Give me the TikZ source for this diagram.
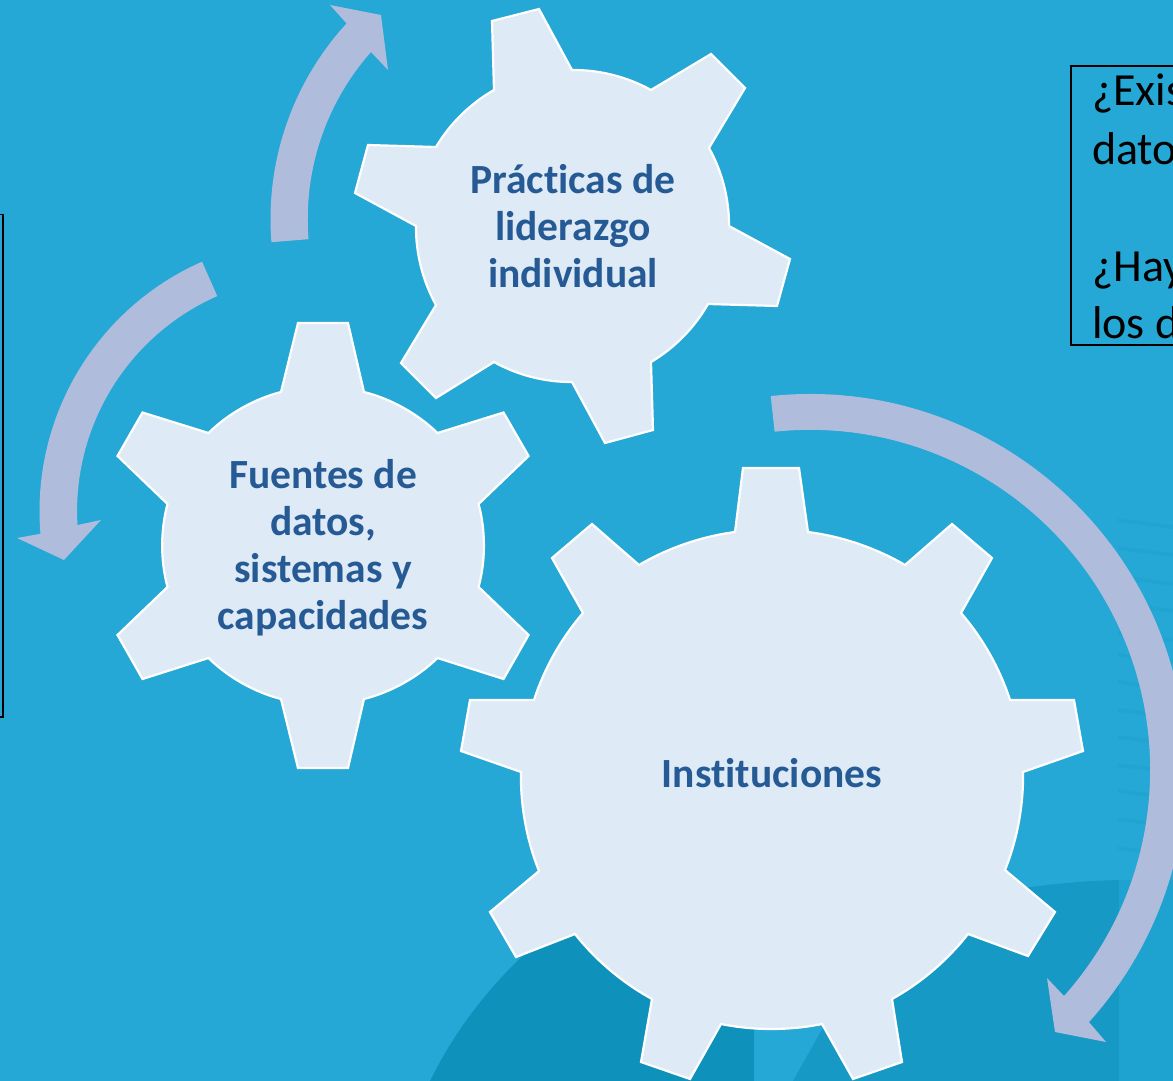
\documentclass[tikz,border=0pt]{standalone}
\usepackage{fontspec}
\setmainfont[Ligatures=NoCommon]{Carlito}
\definecolor{bgblue}{HTML}{25A8D5}
\definecolor{darkL}{HTML}{0E92BC}
\definecolor{darkR}{HTML}{1699C4}
\definecolor{farR}{HTML}{1EA2CF}
\definecolor{stripe}{HTML}{21A4D1}
\definecolor{arrowc}{HTML}{AFBCDC}
\definecolor{gearc}{HTML}{DEEAF6}
\definecolor{gtext}{HTML}{255A94}
\tikzset{
  gearshape/.style={fill=gearc,draw=white,line width=2.2pt,line join=miter},
  geartext/.style={text=gtext,font=\fontsize{41.5}{47}\selectfont\bfseries,align=center,inner sep=0pt},
  qtext/.style={text=black,font=\fontsize{46}{58}\selectfont,align=left,inner sep=0pt,anchor=base west},
  bluearrow/.style={fill=arrowc,draw=none},
  arcbig/.style={bend left=11.5,looseness=0.85},
  arcsmall/.style={bend left=15,looseness=0.85},
  framebox/.style={draw=black,line width=1.5pt,fill=none}
}
\begin{document}
\begin{tikzpicture}[x=1pt,y=-1pt]
\useasboundingbox (0,0) rectangle (1173,1081);
\clip (0,0) rectangle (1173,1081);
\fill[bgblue] (0,0) rectangle (1173,1081);
% background dome
\fill[darkL] (430,1081) .. controls (460,1020) and (500,975) .. (540,940) -- (700,860) -- (754,860) -- (754,1081) -- cycle;
\fill[darkR] (793,1081) -- (825,1024) -- (860,960) -- (960,900) .. controls (1010,888) and (1070,881) .. (1119,880) -- (1119,1081) -- cycle;
\fill[farR] (1119,880) rectangle (1173,1081);
\foreach \yy in {520,548,577,604,633,655,682,710,737,765,791,819,848}
  \draw[stripe,line width=4pt] (1118,\yy) -- (1173,\yy+7);
% arrows
\path[bluearrow] (560,219) ++(175.4:289.5) arc[start angle=175.4,end angle=222.5,radius=289.5] -- (330,5) -- (381,15) -- (388,70) -- (371,52) arc[start angle=221.5,end angle=175.4,radius=252] -- cycle;
\path[bluearrow] (312,511) ++(246.2:272.5) arc[start angle=246.2,end angle=175.2,radius=272.5] -- (17,538) -- (64,560) -- (101,520) -- (77.5,525) arc[start angle=176.6,end angle=246.2,radius=235] -- cycle;
\path[bluearrow] (810,770) ++(-96:376) arc[start angle=-96,end angle=42.1,radius=376] -- (1106,1042) -- (1055,1032) -- (1047,978) -- (1064,996) arc[start angle=41.7,end angle=-96,radius=340] -- cycle;
% gears
\path[gearshape] (494,90) -- (492,21) -- (539,9) -- (572,70) to[arcsmall] (651,90) -- (711,54) -- (745,88) -- (709,148) to[arcsmall] (729,226) -- (790,259) -- (777,306) -- (708,304) to[arcsmall] (651,362) -- (653,430) -- (605,443) -- (572,382) to[arcsmall] (494,362) -- (436,398) -- (401,363) -- (436,305) to[arcsmall] (416,226) -- (355,193) -- (368,145) -- (436,147) to[arcsmall] (494,90) -- cycle;
\path[gearshape] (281,392) -- (298,323) -- (348,323) -- (364,392) to[arcsmall] (437.5,433) -- (503.5,412.5) -- (528.6,456) -- (478.6,504) to[arcsmall] (478.6,587) -- (528.6,635) -- (503.5,679) -- (437.5,658) to[arcsmall] (364,699) -- (348,768) -- (298,768) -- (281,699) to[arcsmall] (208.5,658) -- (142.5,679) -- (117.5,635) -- (167.5,587) to[arcsmall] (167.5,504) -- (117.5,456) -- (142.5,412.5) -- (208.5,433) to[arcsmall] (281,392) -- cycle;
\path[gearshape] (735,532) -- (743,468) -- (799,468) -- (808,532) to[arcbig] (905,565) -- (952,524) -- (992,558) -- (961,613) to[arcbig] (1010,700) -- (1074,700) -- (1083,751) -- (1023,772) to[arcbig] (1005,870) -- (1055,912) -- (1028,956) -- (968,934) to[arcbig] (892,999) -- (902,1062) -- (853,1079) -- (822,1024) to[arcbig] (721,1024) -- (690,1079) -- (641,1062) -- (652,999) to[arcbig] (575,934) -- (516,957) -- (490,912) -- (539,871) to[arcbig] (521,772) -- (461,751) -- (470,700) -- (534,700) to[arcbig] (583,613) -- (552,558) -- (592,524) -- (639,565) to[arcbig] (735,532) -- cycle;
% gear labels
\node[geartext] (practicas) at (573,226) {Prácticas de\\liderazgo\\individual};
\node[geartext] (fuentes) at (323,548) {Fuentes de\\datos,\\sistemas y\\capacidades};
\node[geartext] (instituciones) at (772,773) {Instituciones};
% clipped frames
\draw[framebox] (-20,214.5) rectangle (3,717);
\draw[framebox] (1071,66) rectangle (1220,345);
\node[qtext] (q1) at (1092,106) {¿Exis};
\node[qtext] (q2) at (1092,164) {dato};
\node[qtext] (q3) at (1092,281) {¿Hay};
\node[qtext] (q4) at (1092,338) {los d};
\end{tikzpicture}
\end{document}
